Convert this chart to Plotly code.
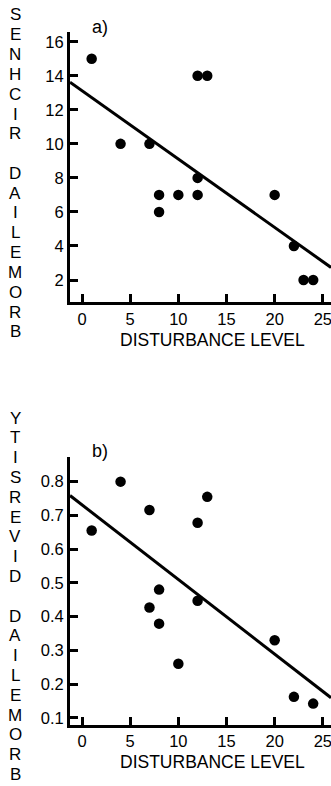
import numpy as np
import plotly.graph_objects as go
from plotly.subplots import make_subplots

# ---- data ----
dist_a = [1, 4, 7, 8, 8, 10, 12, 12, 12, 13, 20, 22, 23, 24]
rich_a = [15, 10, 10, 7, 6, 7, 8, 7, 14, 14, 7, 4, 2, 2]

dist_b = [1, 4, 7, 8, 7, 8, 10, 12, 13, 12, 20, 22, 24]
div_b = [0.655, 0.80, 0.716, 0.48, 0.427, 0.379, 0.26, 0.678, 0.755, 0.447, 0.33, 0.162, 0.142]

x_ticks = [0, 5, 10, 15, 20, 25]
y_ticks_a = [2, 4, 6, 8, 10, 12, 14, 16]
y_ticks_b = [0.1, 0.2, 0.3, 0.4, 0.5, 0.6, 0.7, 0.8]

x_range = [-1.25, 25.85]
y_range_a = [0.69, 16.59]
y_range_b = [0.08, 0.874]

label_a = "SENHCIR DAILEMORB"
label_b = "YTISREVID DAILEMORB"
x_title = "DISTURBANCE LEVEL"

W, H = 331, 786
L = 70
FONT = "Liberation Sans, Arial, sans-serif"

fig = make_subplots(rows=2, cols=1)

for row, xs, ys in [(1, dist_a, rich_a), (2, dist_b, div_b)]:
    m, c = np.polyfit(xs, ys, 1)
    xl = np.array(x_range)
    fig.add_trace(go.Scatter(x=xl, y=m * xl + c, mode="lines",
                             line=dict(color="black", width=3),
                             showlegend=False, hoverinfo="skip"), row=row, col=1)
    fig.add_trace(go.Scatter(x=xs, y=ys, mode="markers",
                             marker=dict(color="black", size=10.5),
                             showlegend=False), row=row, col=1)

def py(p):
    return (H - p) / H

axis_common = dict(showline=True, linecolor="black", linewidth=3,
                   ticks="inside", ticklen=8, tickwidth=2.5, tickcolor="black",
                   showgrid=False, zeroline=False, automargin=False,
                   ticklabeloverflow="allow",
                   tickfont=dict(family=FONT, size=16.5, color="black"))

fig.update_xaxes(range=x_range, tickvals=x_ticks, domain=[0, 1], **axis_common)
fig.update_yaxes(range=y_range_a, tickvals=y_ticks_a, domain=[py(302.3), py(31.7)],
                 row=1, col=1, **axis_common)
fig.update_yaxes(range=y_range_b, tickvals=y_ticks_b, domain=[py(724.5), py(456.7)],
                 row=2, col=1, **axis_common)

def px(p):
    return (p - L) / (W - L)

ann = []
ann.append(dict(text="a)", x=px(100), y=py(27)))
ann.append(dict(text="b)", x=px(100), y=py(451)))
for yy in (340, 762):
    ann.append(dict(text=x_title, x=px(212), y=py(yy), size=17.5))

# vertical stacked letters, one annotation per letter
for label, top, step in [(label_a, 15, 19.8), (label_b, 418, 19.8)]:
    for i, ch in enumerate(label):
        if ch == " ":
            continue
        ann.append(dict(text=ch, x=px(15), y=py(top + i * step), size=17))

annotations = []
for a in ann:
    annotations.append(dict(text=a["text"], x=a["x"], y=a["y"], xref="paper", yref="paper",
                            xanchor="center", yanchor="middle", showarrow=False, align="center",
                            borderpad=0,
                            font=dict(family=FONT, size=a.get("size", 18), color="black")))

fig.update_layout(width=W, height=H, margin=dict(l=L, r=0, t=0, b=0),
                  paper_bgcolor="white", plot_bgcolor="white",
                  annotations=annotations, showlegend=False)

fig.write_html("out.html", config={"displayModeBar": False},
               post_script="document.body.style.margin='0';document.body.style.overflow='hidden';")
